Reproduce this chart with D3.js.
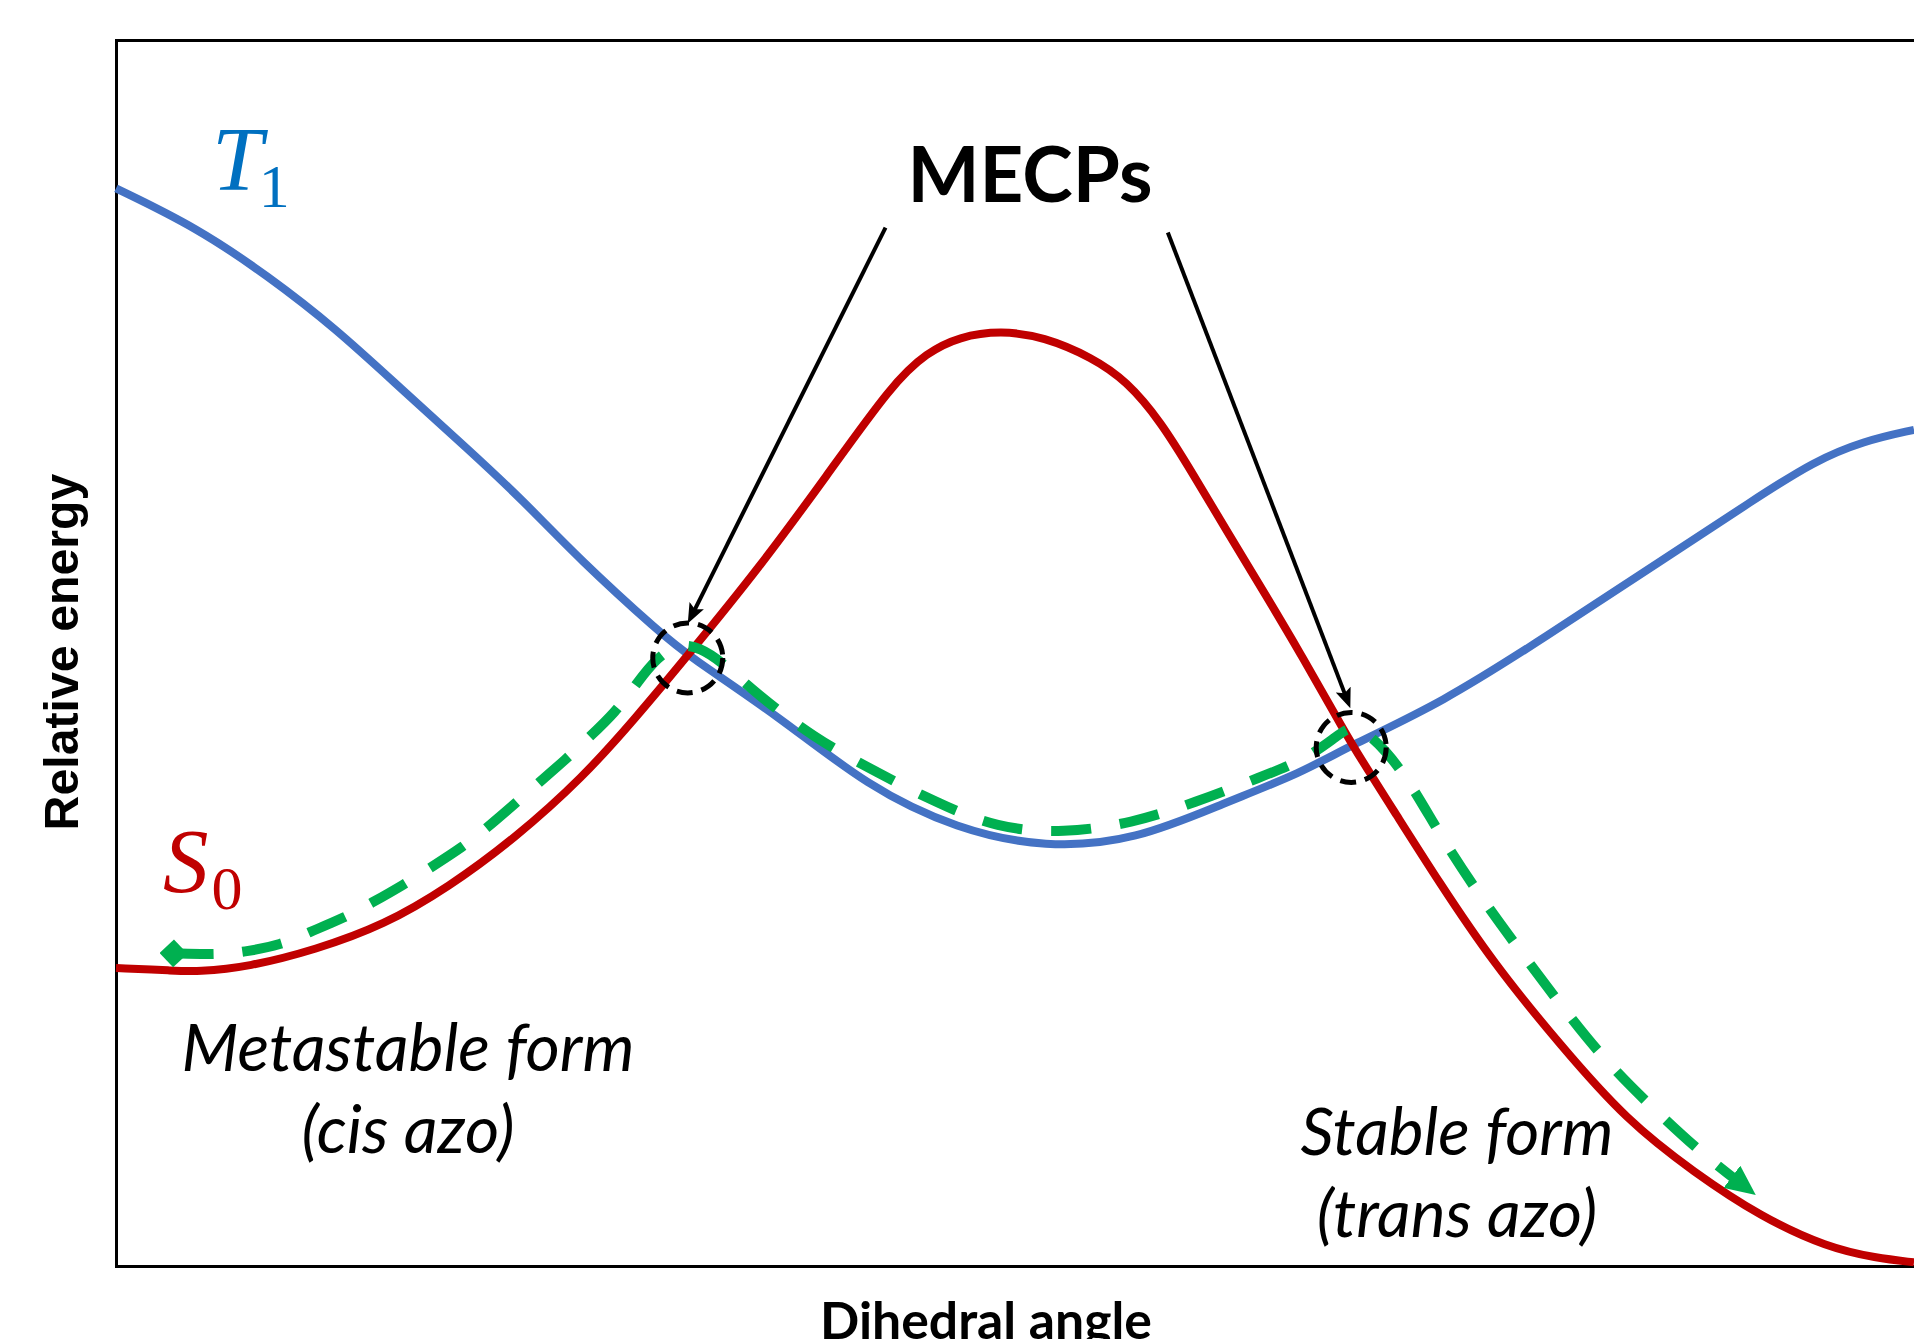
<!DOCTYPE html>
<html>
<head>
<meta charset="utf-8">
<script src="https://cdn.jsdelivr.net/npm/d3@7"></script>
<style>
  html, body { margin: 0; padding: 0; background: #fff; }
  svg { display: block; background: #fff; }
</style>
</head>
<body>
<svg id="vis" width="1914" height="1339"></svg>
<script>
// dihedral angle and relative energy, both in arbitrary units (0-100)

// T1 surface
const t1Angle  = [0, 4.5, 8.5, 12.2, 15.9, 19.6, 22.6, 25.8, 30.3, 31.8, 36.9, 41.8, 46.8, 51.7, 56.7, 61.7, 65.9, 68.7, 73.7, 79.5, 85.4, 91.3, 94.4, 97.2, 100];
const t1Energy = [87.9, 84.7, 80.7, 76.5, 71.5, 66.6, 62.5, 57.6, 51.6, 49.8, 44.8, 39.1, 35.6, 34.1, 34.7, 37.8, 40.2, 42.5, 45.9, 51.3, 57.0, 62.7, 65.6, 67.3, 68.2];

// S0 surface
const s0Angle  = [0, 3.2, 4.5, 7.4, 11.1, 14.9, 18.5, 22.2, 26.0, 28.9, 31.8, 35.8, 39.5, 43.2, 45.1, 46.9, 49.2, 51.6, 54.3, 56.2, 58.1, 59.9, 61.8, 64.0, 65.9, 67.8, 68.7, 71.3, 73.5, 76.6, 80.4, 84.0, 87.8, 91.5, 95.2, 97.9, 100];
const s0Energy = [24.3, 24.1, 24.0, 24.4, 25.8, 27.8, 30.9, 34.9, 39.9, 44.7, 49.8, 57.0, 64.4, 72.0, 74.5, 75.8, 76.3, 75.8, 74.1, 72.2, 68.9, 64.6, 59.9, 54.6, 49.9, 45.0, 42.6, 36.6, 31.5, 24.7, 17.9, 11.9, 7.6, 4.0, 1.5, 0.65, 0.3];

// isomerisation pathway (green dashed)
const pathAngle  = [3.2, 5.5, 7.1, 9.2, 10.7, 12.7, 14.2, 16.0, 17.5, 19.3, 20.6, 22.1, 23.5, 25.0, 26.3, 27.8, 28.9, 30.1, 31.4, 32.5, 33.6, 35.6, 38.8, 42.0, 45.6, 49.0, 52.7, 56.5, 60.0, 63.7, 66.1, 67.8, 68.6, 69.4, 70.6, 72.0, 73.9, 76.0, 78.2, 80.5, 82.9, 85.6, 88.4, 91.2];
const pathEnergy = [25.5, 25.4, 25.6, 26.2, 27.2, 28.4, 29.6, 31.1, 32.5, 34.2, 35.7, 37.6, 39.4, 41.3, 43.1, 45.2, 47.4, 49.7, 50.8, 50.4, 49.4, 46.7, 43.1, 40.5, 37.8, 35.7, 35.3, 36.1, 37.8, 39.9, 41.3, 43.1, 44.0, 43.7, 42.1, 39.4, 34.5, 29.9, 25.5, 21.0, 16.6, 12.7, 8.9, 5.8];

// minimum energy crossing points and their callout arrows
const mecpAngle  = [31.8, 68.7];
const mecpEnergy = [49.6, 42.3];
const arrowFromAngle  = [42.8, 58.5];
const arrowFromEnergy = [84.7, 84.3];
const arrowToAngle    = [31.8, 68.65];
const arrowToEnergy   = [52.4, 45.5];

const svg = d3.select("#vis");

// SCALES (plot runs off the right edge)
const x = d3.scaleLinear().domain([0, 100]).range([116, 1914]);
const y = d3.scaleLinear().domain([0, 100]).range([1266, 40]);

const toPoints = (xs, ys) => xs.map((v, i) => [v, ys[i]]);

const line = d3.line()
  .x(d => x(d[0]))
  .y(d => y(d[1]))
  .curve(d3.curveBasis);

// markers
const defs = svg.append("defs");

defs.append("marker")
  .attr("id", "callout-head")
  .attr("markerUnits", "userSpaceOnUse")
  .attr("viewBox", "0 0 20 16")
  .attr("refX", 13)
  .attr("refY", 8)
  .attr("markerWidth", 20)
  .attr("markerHeight", 16)
  .attr("orient", "auto")
  .append("path")
  .attr("d", "M0,0 L20,8 L0,16 L4,8 Z")
  .attr("fill", "#000");

defs.append("marker")
  .attr("id", "path-head")
  .attr("markerUnits", "userSpaceOnUse")
  .attr("viewBox", "0 0 30 28")
  .attr("refX", 30)
  .attr("refY", 14)
  .attr("markerWidth", 30)
  .attr("markerHeight", 28)
  .attr("orient", "auto")
  .append("path")
  .attr("d", "M0,0 L30,14 L0,28 Z")
  .attr("fill", "#00B050");

defs.append("marker")
  .attr("id", "path-tail")
  .attr("markerUnits", "userSpaceOnUse")
  .attr("viewBox", "0 0 28 28")
  .attr("refX", 14)
  .attr("refY", 14)
  .attr("markerWidth", 28)
  .attr("markerHeight", 28)
  .attr("orient", "auto")
  .append("path")
  .attr("d", "M0,14 L14,0 L28,14 L14,28 Z")
  .attr("fill", "#00B050");

// frame: top, left and bottom axes without ticks
const frame = svg.append("g").attr("class", "frame");
frame.append("g")
  .attr("transform", `translate(0,${y(100)})`)
  .call(d3.axisTop(x).tickValues([]).tickSizeOuter(0));
frame.append("g")
  .attr("transform", `translate(${x(0)},0)`)
  .call(d3.axisLeft(y).tickValues([]).tickSizeOuter(0));
frame.append("g")
  .attr("transform", `translate(0,${y(0)})`)
  .call(d3.axisBottom(x).tickValues([]).tickSizeOuter(0));
frame.selectAll(".domain")
  .attr("stroke", "#000")
  .attr("stroke-width", 3)
  .attr("stroke-linecap", "square");

// surfaces
svg.append("path")
  .datum(toPoints(t1Angle, t1Energy))
  .attr("fill", "none")
  .attr("stroke", "#4472C4")
  .attr("stroke-width", 8)
  .attr("d", line);

svg.append("path")
  .datum(toPoints(s0Angle, s0Energy))
  .attr("fill", "none")
  .attr("stroke", "#C00000")
  .attr("stroke-width", 8)
  .attr("d", line);

// pathway, dashes stop short of the arrow head
const green = svg.append("path")
  .datum(toPoints(pathAngle, pathEnergy))
  .attr("fill", "none")
  .attr("stroke", "#00B050")
  .attr("stroke-width", 10)
  .attr("d", line)
  .attr("marker-start", "url(#path-tail)")
  .attr("marker-end", "url(#path-head)");

const total = green.node().getTotalLength();
const stopAt = total - 22;
const dashes = [];
let s = 0;
while (s < stopAt) {
  const dash = Math.min(40, stopAt - s);
  dashes.push(dash, 29);
  s += 69;
}
dashes[dashes.length - 1] = total;
green.attr("stroke-dasharray", dashes.join(" "));

// MECP circles
svg.selectAll("circle.mecp")
  .data(mecpAngle)
  .join("circle")
  .attr("class", "mecp")
  .attr("cx", d => x(d))
  .attr("cy", (d, i) => y(mecpEnergy[i]))
  .attr("r", 35)
  .attr("fill", "none")
  .attr("stroke", "#000")
  .attr("stroke-width", 5)
  .attr("stroke-dasharray", "16 9");

// callout arrows (line stops short so the head covers the tip)
svg.selectAll("line.callout")
  .data(arrowFromAngle)
  .join("line")
  .attr("class", "callout")
  .each(function (d, i) {
    const x1 = x(d), y1 = y(arrowFromEnergy[i]);
    const x2 = x(arrowToAngle[i]), y2 = y(arrowToEnergy[i]);
    const len = Math.hypot(x2 - x1, y2 - y1);
    const k = (len - 7) / len;
    d3.select(this)
      .attr("x1", x1).attr("y1", y1)
      .attr("x2", x1 + (x2 - x1) * k)
      .attr("y2", y1 + (y2 - y1) * k);
  })
  .attr("stroke", "#000")
  .attr("stroke-width", 4)
  .attr("marker-end", "url(#callout-head)");

// text helpers
function fitWidth(sel, w) {
  const len = sel.node().getComputedTextLength();
  const fs = parseFloat(sel.attr("font-size"));
  sel.attr("font-size", fs * w / len);
  return fs * w / len;
}

// MECPs title
const mecpText = svg.append("text")
  .attr("x", 1030)
  .attr("y", 202)
  .attr("text-anchor", "middle")
  .attr("font-family", "Lato, 'Open Sans', sans-serif")
  .attr("font-weight", 700)
  .attr("font-size", 80)
  .attr("fill", "#000")
  .text("MECPs");
fitWidth(mecpText, 245);

// state labels, subscript as a tspan
const serif = "'Liberation Serif', 'DejaVu Serif', serif";
function stateLabel(x0, y0, sym, sub, color, dx, dy) {
  const t = svg.append("text")
    .attr("x", x0).attr("y", y0)
    .attr("font-family", serif)
    .attr("fill", color);
  t.append("tspan")
    .attr("font-style", "italic")
    .attr("font-size", 91)
    .text(sym);
  t.append("tspan")
    .attr("dx", dx).attr("dy", dy)
    .attr("font-size", 62)
    .text(sub);
}
stateLabel(212, 190, "T", "1", "#0070C0", -4, 17);
stateLabel(163, 892, "S", "0", "#C00000", 3, 17);

// form labels
function formLabel(cx, y1, y2, l1, l2, w) {
  const a = svg.append("text")
    .attr("x", cx).attr("y", y1)
    .attr("text-anchor", "middle")
    .attr("font-family", "Lato, 'Open Sans', sans-serif")
    .attr("font-style", "italic")
    .attr("font-size", 60)
    .attr("fill", "#000")
    .text(l1);
  const fs = fitWidth(a, w);
  svg.append("text")
    .attr("x", cx).attr("y", y2)
    .attr("text-anchor", "middle")
    .attr("font-family", "Lato, 'Open Sans', sans-serif")
    .attr("font-style", "italic")
    .attr("font-size", fs)
    .attr("fill", "#000")
    .text(l2);
}
formLabel(408, 1071, 1153, "Metastable form", "(cis azo)", 453);
formLabel(1457, 1155, 1237, "Stable form", "(trans azo)", 313);

// axis titles
const xTitle = svg.append("text")
  .attr("x", 986)
  .attr("text-anchor", "middle")
  .attr("font-family", "Lato, 'Open Sans', sans-serif")
  .attr("font-weight", 700)
  .attr("font-size", 48)
  .attr("fill", "#000")
  .text("Dihedral angle");
const xfs = fitWidth(xTitle, 332);
xTitle.attr("y", 1302 + 0.72 * xfs);

const yTitle = svg.append("text")
  .attr("transform", "translate(78,652) rotate(-90)")
  .attr("text-anchor", "middle")
  .attr("font-family", "'Liberation Sans', Arial, sans-serif")
  .attr("font-weight", 700)
  .attr("font-size", 48)
  .attr("fill", "#000")
  .text("Relative energy");
fitWidth(yTitle, 357);
</script>
</body>
</html>
